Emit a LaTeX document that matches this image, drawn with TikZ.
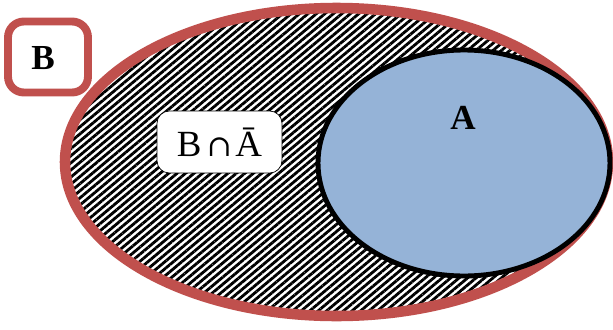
\documentclass[tikz,border=0pt]{standalone}
\usepackage{fontspec}
\setmainfont{Liberation Serif}
\newfontfamily\symfont{DejaVu Serif}
\usetikzlibrary{patterns.meta}

\definecolor{setred}{HTML}{C0504D}
\definecolor{setblue}{HTML}{95B3D7}

\begin{document}
\begin{tikzpicture}[
        x=0.02cm, y=-0.02cm,
        setname/.style={font=\fontsize{20}{24}\selectfont\bfseries},
        hatch/.style={pattern={Lines[angle=40, distance=3.1pt, line width=1.6pt]}, pattern color=black}
    ]
        \useasboundingbox (0,0) rectangle (613,329);

        % Set B, hatched
        \fill[white] (336.5,162) ellipse (271.5 and 154);
        \draw[setred, line width=6pt, hatch] (336.5,162) ellipse (271.5 and 154);

        % Set A
        \filldraw[fill=setblue, draw=black, line width=2.8pt] (464,163) ellipse (146 and 113);
        \node[setname] (nameA) at (463,118) {A};

        % Name box of B
        \node[draw=setred, line width=4.5pt, rounded corners=9pt, fill=white,
            minimum width=1.6cm, minimum height=1.42cm] (boxB) at (48,57) {};
        \node[setname] (nameB) at (43,58) {B};

        % Label of the hatched part
        \node[draw=black, fill=white, thin, rounded corners=7pt,
            minimum width=2.5cm, minimum height=1.24cm,
            font=\fontsize{21}{26}\selectfont] (rest) at (219.5,142)
            {B\hspace{3pt}{\symfont\fontsize{17}{20}\selectfont ∩}\hspace{2pt}Ā};

    \end{tikzpicture}
\end{document}
